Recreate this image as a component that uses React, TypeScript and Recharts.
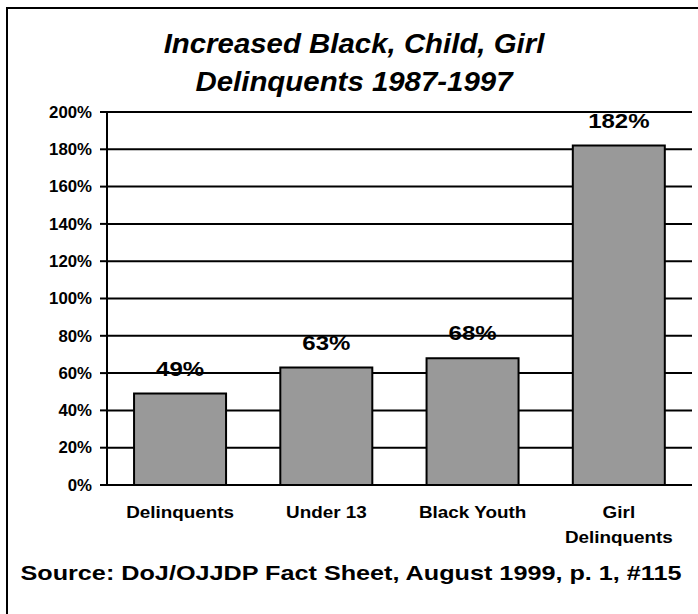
import React from 'react';
import { BarChart, Bar, XAxis, YAxis, CartesianGrid, LabelList } from 'recharts';

const categories = ['Delinquents', 'Under 13', 'Black Youth', 'Girl Delinquents'];
const increases = [49, 63, 68, 182];
const tickLabelLines = [['Delinquents'], ['Under 13'], ['Black Youth'], ['Girl', 'Delinquents']];
const yTicks = [0, 20, 40, 60, 80, 100, 120, 140, 160, 180, 200];
const edgeTicks = [0, 1, 2, 3, 4];

const data = categories.map((name, i) => ({ name, value: increases[i], idx: i }));

const FONT = '"Liberation Sans", Arial, sans-serif';

// the source image is a bit stretched sideways, so text gets a scaleX
const CategoryTick = ({ x, y, index }: any) => {
  const lines = tickLabelLines[index] || [];
  return (
    <g>
      {lines.map((ln, i) => (
        <text
          key={i}
          transform={`translate(${x},${y + 25 + i * 25}) scale(1.18,1)`}
          textAnchor="middle"
          fontFamily={FONT}
          fontSize={16}
          fontWeight="bold"
          fill="#000"
        >
          {ln}
        </text>
      ))}
    </g>
  );
};

const YTick = ({ x, y, payload }: any) => (
  <text
    transform={`translate(${x},${y}) scale(1.05,1)`}
    textAnchor="end"
    dy="0.36em"
    fontFamily={FONT}
    fontSize={16}
    fontWeight="bold"
    fill="#000"
  >
    {`${payload.value}%`}
  </text>
);

const BarValueLabel = (props: any) => {
  const vb = props.viewBox || props;
  const cx = vb.x + vb.width / 2;
  return (
    <text
      transform={`translate(${cx},${vb.y - 18}) scale(1.2,1)`}
      textAnchor="middle"
      fontFamily={FONT}
      fontSize={20}
      fontWeight="bold"
      fill="#000"
    >
      {`${props.value}%`}
    </text>
  );
};

export default function App() {
  return (
    <div
      style={{
        position: 'absolute',
        left: 0,
        top: 0,
        width: 698,
        height: 614,
        background: '#fff',
        overflow: 'hidden',
        fontFamily: FONT,
      }}
    >
      {/* frame, runs off the right and bottom */}
      <div
        style={{
          position: 'absolute',
          left: 6,
          top: 7,
          width: 720,
          height: 640,
          border: '2px solid #000',
          boxSizing: 'border-box',
        }}
      />
      <div
        style={{
          position: 'absolute',
          left: 5,
          width: 698,
          top: 25,
          textAlign: 'center',
          fontSize: 28,
          fontWeight: 'bold',
          fontStyle: 'italic',
          lineHeight: '38px',
          transform: 'scaleX(1.05)',
        }}
      >
        Increased Black, Child, Girl
        <br />
        Delinquents 1987-1997
      </div>

      <div style={{ position: 'absolute', left: 0, top: 0 }}>
        <BarChart
          width={698}
          height={614}
          data={data}
          margin={{ top: 112, right: 6, left: 0, bottom: 0 }}
          barCategoryGap="18.5%"
        >
          <XAxis xAxisId="labels" dataKey="name" hide />
          <XAxis
            xAxisId="edges"
            type="number"
            dataKey="idx"
            domain={[0, 4]}
            ticks={edgeTicks}
            height={0}
            axisLine={false}
            tickLine={{ stroke: '#000', strokeWidth: 2 }}
            tickSize={7}
            tick={() => <g />}
          />
          <XAxis
            dataKey="name"
            height={129}
            axisLine={{ stroke: '#000', strokeWidth: 2 }}
            tickLine={false}
            tick={<CategoryTick />}
            interval={0}
          />
          <YAxis
            width={107}
            domain={[0, 200]}
            ticks={yTicks}
            interval={0}
            axisLine={{ stroke: '#000', strokeWidth: 2 }}
            tickLine={{ stroke: '#000', strokeWidth: 2 }}
            tickSize={7}
            tickMargin={8}
            tick={<YTick />}
          />
          {/* value labels sit under the gridlines, like the original */}
          <Bar xAxisId="labels" dataKey="value" fill="none" stroke="none" isAnimationActive={false}>
            <LabelList dataKey="value" content={<BarValueLabel />} />
          </Bar>
          <CartesianGrid vertical={false} stroke="#000" strokeWidth={2} />
          <Bar dataKey="value" fill="#999999" stroke="#000" strokeWidth={2} isAnimationActive={false} />
        </BarChart>
      </div>

      <div
        style={{
          position: 'absolute',
          left: 2,
          width: 698,
          top: 560,
          textAlign: 'center',
          fontSize: 21,
          fontWeight: 'bold',
          lineHeight: '26px',
          transform: 'scaleX(1.2)',
        }}
      >
        Source: DoJ/OJJDP Fact Sheet, August 1999, p. 1, #115
      </div>
    </div>
  );
}
